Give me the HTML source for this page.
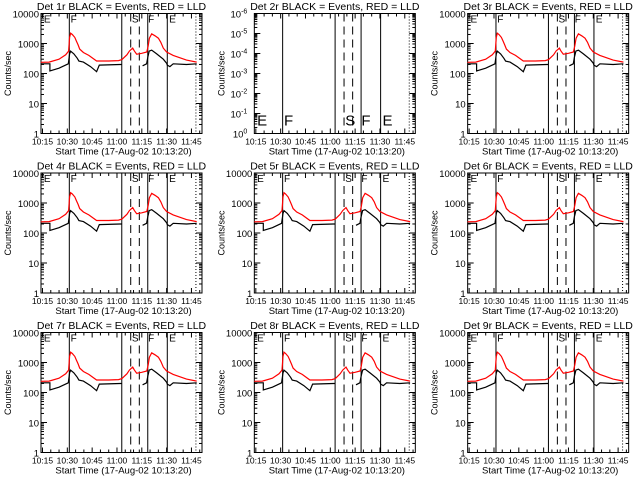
<!DOCTYPE html>
<html><head><meta charset="utf-8"><style>
html,body{margin:0;padding:0;background:#fff;}
svg{display:block;font-family:"Liberation Sans",sans-serif;}
</style></head><body>
<svg id="c" width="640" height="480" viewBox="0 0 640 480"></svg>
<script>
// data (minutes after 10:15, counts/sec)
const redMin = [-1,4,10,14,15.8,16.4,17,18,19.5,20.5,21.5,22.5,24.7,28,32.7,40,46,48,51,52.5,54.5,55.5,56.9,60,63,63.8,64.6,66,68,70,71.5,73,75,79,87,93.2];
const redVal = [236,240,300,420,560,1600,2200,2000,1600,1200,900,650,500,400,262,262,270,290,420,560,700,560,440,470,520,800,1500,2100,1800,1500,1100,700,520,400,280,240];
const blkMin = [-1,4.5,4.5,10,15.6,16.4,17,19,21,22,24.7,29,32.7,34.3,46.8,48,null,60.5,62.9,63.6,64.5,66,69,73,75,75.4,77,79,87,93.2];
const blkVal = [210,210,121,150,210,450,560,450,320,260,240,170,115,190,200,200,null,180,210,350,560,600,450,300,220,190,170,210,200,210];
const solidLines = [16.2,47.9,63.6,75.4];
const dashedLines = [53.3,58.5];
const dottedLines = [92.7];
const markers = [["E",0.8],["F",17],["S",54],["F",63.8],["E",76.5]];
const xTickLabels = ["10:15","10:30","10:45","11:00","11:15","11:30","11:45"];
const yTickLabels = ["1","10","100","1000","10000"];
const y2TickLabels = ["0","-1","-2","-3","-4","-5","-6"];
const dets = ["1r","2r","3r","4r","5r","6r","7r","8r","9r"];

const svg = document.getElementById('c');
const NS = 'http://www.w3.org/2000/svg';
function mk(tag, at, parent){const e=document.createElementNS(NS,tag);for(const k in at)e.setAttribute(k,at[k]);(parent||svg).appendChild(e);return e;}

dets.forEach((d,i)=>{
  const col=i%3,row=Math.floor(i/3);
  const ox=col*213.33,oy=row*159.5;
  const L=ox+41,R=ox+202,T=oy+13.5,B=oy+133.5;
  const g=mk('g',{});
  
  
  const X=m=>L+1.5+m*1.655;
  const Y=v=>B-(Math.log10(v))*30;
  const empty=(d==="2r");
  const t=mk('text',{x:(L+R)/2,y:oy+10,'text-anchor':'middle','font-size':'10.5'},g);
  t.textContent='Det '+d+' BLACK = Events, RED = LLD';
  
  
  const bx=mk('rect',{x:L,y:T,width:R-L,height:B-T,fill:'none',stroke:'#000','stroke-width':1},g);
  
  
  for(let m=0;m<=95;m+=5){
    const x=X(m),len=(m%15===0)?5:3;
    mk('line',{x1:x,y1:B,x2:x,y2:B-len,stroke:'#000'},g);
    mk('line',{x1:x,y1:T,x2:x,y2:T+len,stroke:'#000'},g);
  }
  xTickLabels.forEach((s,k)=>{
    const tx=mk('text',{x:X(k*15),y:B+11,'text-anchor':'middle','font-size':'8.5'},g);
    tx.textContent=s;
    
    
  });
  const xt=mk('text',{x:(L+R)/2+2,y:B+21,'text-anchor':'middle','font-size':'9.5'},g);
  xt.textContent='Start Time (17-Aug-02 10:13:20)';
  
  
  const yt=mk('text',{x:0,y:0,'text-anchor':'middle','font-size':'9',transform:`translate(${ox+11},${(T+B)/2}) rotate(-90)`},g);
  yt.textContent='Counts/sec';
  
  
  const ndec=empty?6:4, pd=(B-T)/ndec;
  for(let k=0;k<=ndec;k++){
    const y=B-k*pd;
    mk('line',{x1:L,y1:y,x2:L+6,y2:y,stroke:'#000'},g);
    mk('line',{x1:R,y1:y,x2:R-6,y2:y,stroke:'#000'},g);
    if(k<ndec)for(let j=2;j<10;j++){const yy=y-Math.log10(j)*pd;
      mk('line',{x1:L,y1:yy,x2:L+3,y2:yy,stroke:'#000'},g);
      mk('line',{x1:R,y1:yy,x2:R-3,y2:yy,stroke:'#000'},g);}
    const lab=mk('text',{x:L-2,y:y+4,'text-anchor':'end','font-size':'9.5'},g);
    
    
    if(empty){
      lab.setAttribute('x',L-7);
      lab.textContent='10';
      const sp=mk('tspan',{dy:-4,'font-size':'7'},lab);sp.textContent=y2TickLabels[k];
    } else lab.textContent=yTickLabels[k];
  }
  solidLines.forEach(m=>{const l=mk('line',{x1:X(m),y1:T,x2:X(m),y2:B,stroke:'#000','stroke-width':1},g);
    });
  dashedLines.forEach(m=>{const l=mk('line',{x1:X(m),y1:T,x2:X(m),y2:B,stroke:'#000','stroke-dasharray':'8,5'},g);
    });
  dottedLines.forEach(m=>{const l=mk('line',{x1:X(m),y1:T,x2:X(m),y2:B,stroke:'#000','stroke-dasharray':'1,2'},g);
    });
  markers.forEach(([s,m])=>{const tx=mk('text',{x:X(m),y:empty?B-8:T+9,'font-size':empty?'15':'10'},g);
    tx.textContent=s;});
  if(empty)return;
  function path(ms,vs){let d='',pen=false;for(let k=0;k<ms.length;k++){if(ms[k]===null){pen=false;continue;}
    d+=(pen?'L':'M')+X(ms[k]).toFixed(1)+','+Y(vs[k]).toFixed(1);pen=true;}return d;}
  const pr=mk('path',{d:path(redMin,redVal),fill:'none',stroke:'#ff0000','stroke-width':1.2},g);
  
  const pb=mk('path',{d:path(blkMin,blkVal),fill:'none',stroke:'#000','stroke-width':1.2},g);
  
});
</script>
</body></html>
